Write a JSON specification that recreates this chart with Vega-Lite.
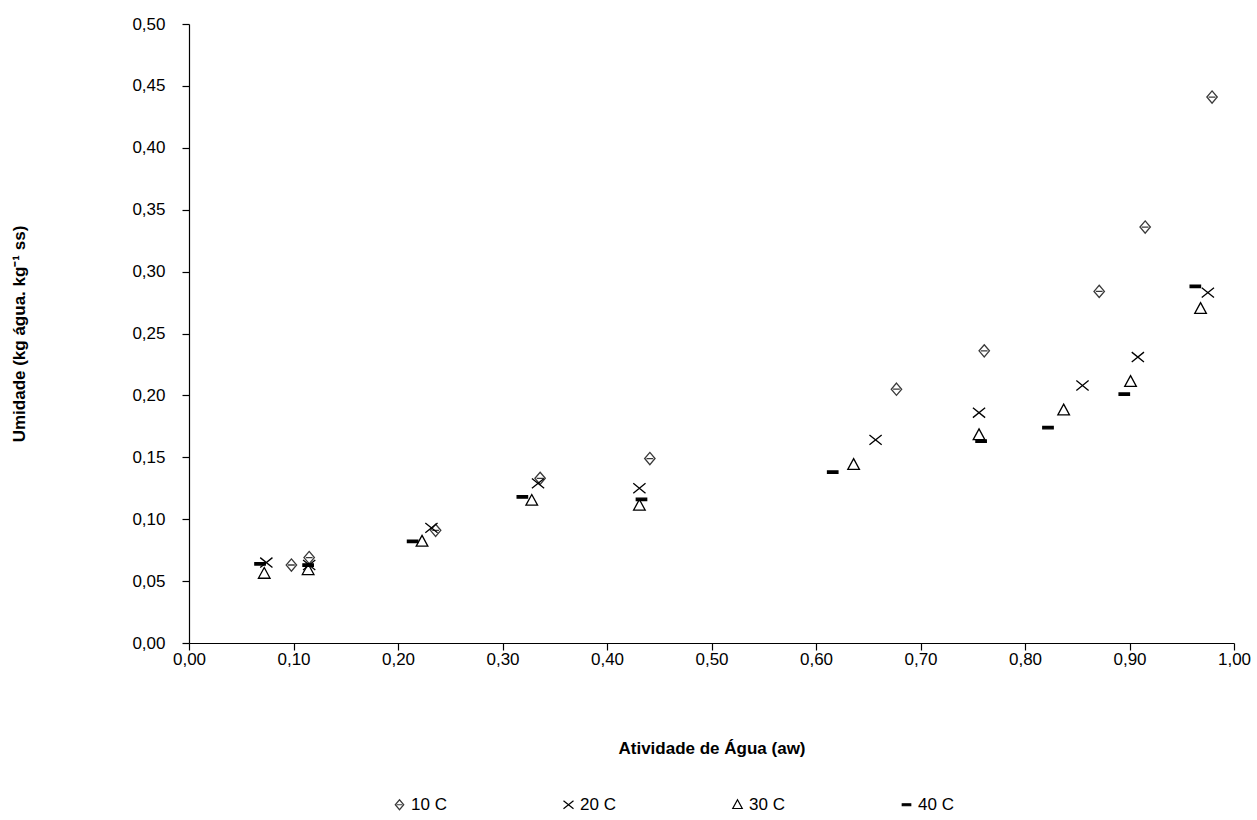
{
  "$schema": "https://vega.github.io/schema/vega-lite/v6.json",
  "autosize": "none",
  "width": 1045,
  "height": 619,
  "padding": {"left": 189, "top": 24, "right": 23, "bottom": 177},
  "background": "white",
  "config": {
    "view": {"stroke": null},
    "font": "Liberation Sans",
    "axis": {"grid": false, "domainColor": "black", "tickColor": "black", "labelColor": "black", "titleColor": "black", "labelFont": "Liberation Sans", "titleFont": "Liberation Sans", "labelFontSize": 17, "titleFontSize": 17, "titleFontWeight": "bold", "tickSize": 7, "domainWidth": 1.2, "tickWidth": 1.2}
  },
  "data": {"values": [
    {"aw": 0.098, "u": 0.063, "serie": "10 C"},
    {"aw": 0.115, "u": 0.069, "serie": "10 C"},
    {"aw": 0.236, "u": 0.091, "serie": "10 C"},
    {"aw": 0.336, "u": 0.133, "serie": "10 C"},
    {"aw": 0.441, "u": 0.149, "serie": "10 C"},
    {"aw": 0.677, "u": 0.205, "serie": "10 C"},
    {"aw": 0.761, "u": 0.236, "serie": "10 C"},
    {"aw": 0.871, "u": 0.284, "serie": "10 C"},
    {"aw": 0.915, "u": 0.336, "serie": "10 C"},
    {"aw": 0.979, "u": 0.441, "serie": "10 C"},
    {"aw": 0.074, "u": 0.065, "serie": "20 C"},
    {"aw": 0.115, "u": 0.063, "serie": "20 C"},
    {"aw": 0.232, "u": 0.093, "serie": "20 C"},
    {"aw": 0.334, "u": 0.129, "serie": "20 C"},
    {"aw": 0.431, "u": 0.125, "serie": "20 C"},
    {"aw": 0.657, "u": 0.164, "serie": "20 C"},
    {"aw": 0.756, "u": 0.186, "serie": "20 C"},
    {"aw": 0.855, "u": 0.208, "serie": "20 C"},
    {"aw": 0.908, "u": 0.231, "serie": "20 C"},
    {"aw": 0.975, "u": 0.283, "serie": "20 C"},
    {"aw": 0.072, "u": 0.056, "serie": "30 C"},
    {"aw": 0.114, "u": 0.059, "serie": "30 C"},
    {"aw": 0.223, "u": 0.082, "serie": "30 C"},
    {"aw": 0.328, "u": 0.115, "serie": "30 C"},
    {"aw": 0.431, "u": 0.111, "serie": "30 C"},
    {"aw": 0.636, "u": 0.144, "serie": "30 C"},
    {"aw": 0.756, "u": 0.168, "serie": "30 C"},
    {"aw": 0.837, "u": 0.188, "serie": "30 C"},
    {"aw": 0.901, "u": 0.211, "serie": "30 C"},
    {"aw": 0.968, "u": 0.270, "serie": "30 C"},
    {"aw": 0.068, "u": 0.064, "serie": "40 C"},
    {"aw": 0.114, "u": 0.063, "serie": "40 C"},
    {"aw": 0.214, "u": 0.082, "serie": "40 C"},
    {"aw": 0.319, "u": 0.118, "serie": "40 C"},
    {"aw": 0.433, "u": 0.116, "serie": "40 C"},
    {"aw": 0.616, "u": 0.138, "serie": "40 C"},
    {"aw": 0.758, "u": 0.163, "serie": "40 C"},
    {"aw": 0.822, "u": 0.174, "serie": "40 C"},
    {"aw": 0.895, "u": 0.201, "serie": "40 C"},
    {"aw": 0.963, "u": 0.288, "serie": "40 C"}
  ]},
  "mark": {"type": "point", "filled": false, "opacity": 1, "strokeWidth": 1.3, "size": 150},
  "encoding": {
    "x": {"field": "aw", "type": "quantitative", "scale": {"domain": [0, 1], "nice": false, "zero": false},
      "axis": {"title": "Atividade de Água  (aw)", "values": [0, 0.1, 0.2, 0.3, 0.4, 0.5, 0.6, 0.7, 0.8, 0.9, 1.0], "labelExpr": "replace(format(datum.value, '.2f'), '.', ',')", "labelPadding": 1, "titlePadding": 73, "labelFlush": false}},
    "y": {"field": "u", "type": "quantitative", "scale": {"domain": [0, 0.5], "nice": false},
      "axis": {"title": "Umidade (kg água. kg⁻¹ ss)", "values": [0, 0.05, 0.1, 0.15, 0.2, 0.25, 0.3, 0.35, 0.4, 0.45, 0.5], "labelExpr": "replace(format(datum.value, '.2f'), '.', ',')", "labelPadding": 17, "titlePadding": 103, "labelFlush": false}},
    "shape": {"field": "serie", "type": "nominal", "scale": {"domain": ["10 C", "20 C", "30 C", "40 C"], "range": ["M0,-1L0.85,0L0,1L-0.85,0Z M-0.55,0L0.55,0", "M-1,-0.8L1,0.8M-1,0.8L1,-0.8", "M0,-1L0.95,0.75L-0.95,0.75Z", "M-0.85,-0.2L0.85,-0.2L0.85,0.2L-0.85,0.2Z"]},
      "legend": {"orient": "none", "legendX": 202, "legendY": 772, "direction": "horizontal", "title": null, "columnPadding": 113, "labelFontSize": 17, "labelFont": "Liberation Sans", "labelColor": "black", "symbolSize": 100, "labelOffset": 3, "symbolStrokeWidth": 1.2}},
    "stroke": {"field": "serie", "type": "nominal", "scale": {"domain": ["10 C", "20 C", "30 C", "40 C"], "range": ["#3a3a3a", "#000000", "#000000", "#000000"]}},
    "fill": {"field": "serie", "type": "nominal", "scale": {"domain": ["10 C", "20 C", "30 C", "40 C"], "range": ["transparent", "transparent", "transparent", "#000000"]}}
  }
}
